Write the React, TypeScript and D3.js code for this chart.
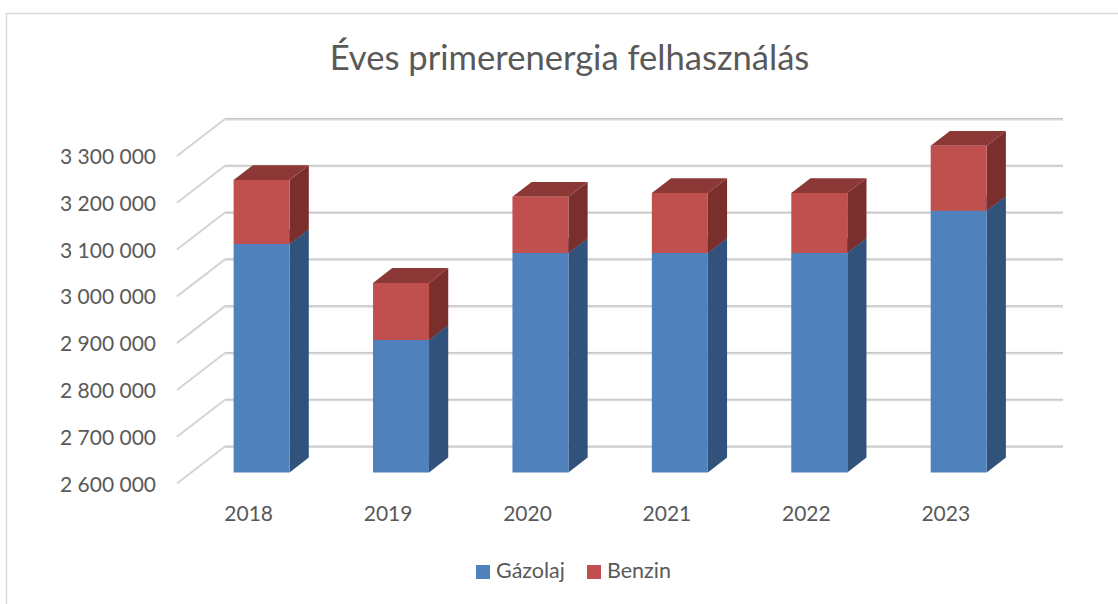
import React, { useEffect, useRef } from "react";
import * as d3 from "d3";

const years = ["2018", "2019", "2020", "2021", "2022", "2023"];
const gazolaj = [3088000, 2883000, 3069000, 3069000, 3069000, 3159000];
const benzin = [137000, 122000, 120000, 128000, 128000, 139000];
const tickValues = [2600000, 2700000, 2800000, 2900000, 3000000, 3100000, 3200000, 3300000];

const seriesNames = ["Gázolaj", "Benzin"];
const frontColors = ["#4f81bd", "#c0504d"];
const sideColors = ["#31527a", "#7a2f2d"];
const topColors = ["#3a6190", "#8c3836"];

const FONT = "Lato, 'Open Sans', sans-serif";
const TEXT = "#595959";

// oblique projection of the 3D box: depth 0 is the front of the floor, 1 the back wall
const DEPTH_X = 48;
const DEPTH_Y = -37;

export default function App() {
    const svgRef = useRef<SVGSVGElement | null>(null);

    useEffect(() => {
        if (!svgRef.current) return;
        const svg = d3.select(svgRef.current);
        svg.selectAll("*").remove();

        const x = d3.scaleBand().domain(years).range([177.5, 1014]).paddingInner(0);
        const y = d3.scaleLinear().domain([2600000, 3300000]).range([483.5, 156]);
        const barWidth = 56;

        const pt = (px: number, value: number, depth: number): [number, number] => [
            px + DEPTH_X * depth,
            y(value) + DEPTH_Y * depth,
        ];
        const line = d3.line();

        // chart frame, only top and left are visible
        svg.append("path")
            .attr("d", "M6.5 604 V13.5 H1118")
            .attr("fill", "none")
            .attr("stroke", "#d9d9d9")
            .attr("stroke-width", 1.5);

        svg.append("text")
            .attr("x", 569.5)
            .attr("y", 70)
            .attr("text-anchor", "middle")
            .attr("font-family", FONT)
            .attr("font-size", 34.6)
            .attr("fill", TEXT)
            .text("Éves primerenergia felhasználás");

        // gridlines: diagonal on the side wall, horizontal on the back wall
        const grid = svg.append("g");
        tickValues.forEach((v) => {
            const [x0, y0] = pt(177, v, 0);
            const [x1, y1] = pt(177, v, 1);
            const [x2] = pt(1015, v, 1);
            grid.append("path")
                .attr("d", line([[x0, y0], [x1, y1]]))
                .attr("fill", "none")
                .attr("stroke", "#d4d4d4")
                .attr("stroke-width", 2);
            grid.append("path")
                .attr("d", line([[x1, y1 + 0.5], [x2, y1 + 0.5]]))
                .attr("fill", "none")
                .attr("stroke", "#d9d9d9")
                .attr("stroke-width", 2);
            grid.append("path")
                .attr("d", line([[x1, y1 - 0.5], [x2, y1 - 0.5]]))
                .attr("fill", "none")
                .attr("stroke", "#c4c4c4")
                .attr("stroke-width", 1);
        });

        // y tick labels
        svg.append("g")
            .selectAll("text")
            .data(tickValues)
            .join("text")
            .attr("x", 156)
            .attr("y", (d) => y(d) + 8)
            .attr("text-anchor", "end")
            .attr("font-family", FONT)
            .attr("font-size", 21)
            .attr("fill", TEXT)
            .text((d) => d3.format(",")(d).replace(/,/g, " "));

        // x labels
        svg.append("g")
            .selectAll("text")
            .data(years)
            .join("text")
            .attr("x", (d) => (x(d) as number) + x.bandwidth() / 2 + 1.5)
            .attr("y", 521)
            .attr("text-anchor", "middle")
            .attr("font-family", FONT)
            .attr("font-size", 21)
            .attr("fill", TEXT)
            .text((d) => d);

        // stacked 3D bars
        const d0 = 0.3;
        const d1 = 0.7;
        const bars = svg.append("g");
        years.forEach((year, i) => {
            const left = (x(year) as number) + x.bandwidth() / 2 - barWidth / 2;
            const right = left + barWidth;
            const stacks = [
                [2600000, gazolaj[i]],
                [gazolaj[i], gazolaj[i] + benzin[i]],
            ];
            stacks.forEach(([v0, v1], s) => {
                const face = (points: [number, number][], fill: string) =>
                    bars.append("path")
                        .attr("d", line(points) + "Z")
                        .attr("fill", fill);
                face([pt(right, v0, d0), pt(right, v0, d1), pt(right, v1, d1), pt(right, v1, d0)], sideColors[s]);
                face([pt(left, v1, d0), pt(right, v1, d0), pt(right, v1, d1), pt(left, v1, d1)], topColors[s]);
                face([pt(left, v0, d0), pt(right, v0, d0), pt(right, v1, d0), pt(left, v1, d0)], frontColors[s]);
            });
        });

        // legend
        const legendX = [476, 587];
        const legend = svg.append("g");
        seriesNames.forEach((name, i) => {
            legend.append("rect")
                .attr("x", legendX[i])
                .attr("y", 565)
                .attr("width", 14)
                .attr("height", 14)
                .attr("fill", frontColors[i]);
            legend.append("text")
                .attr("x", legendX[i] + 20)
                .attr("y", 578)
                .attr("font-family", FONT)
                .attr("font-size", 21.5)
                .attr("fill", TEXT)
                .text(name);
        });
    }, []);

    return (
        <svg
            ref={svgRef}
            width={1118}
            height={604}
            style={{ position: "absolute", left: 0, top: 0, background: "#fff" }}
        />
    );
}
